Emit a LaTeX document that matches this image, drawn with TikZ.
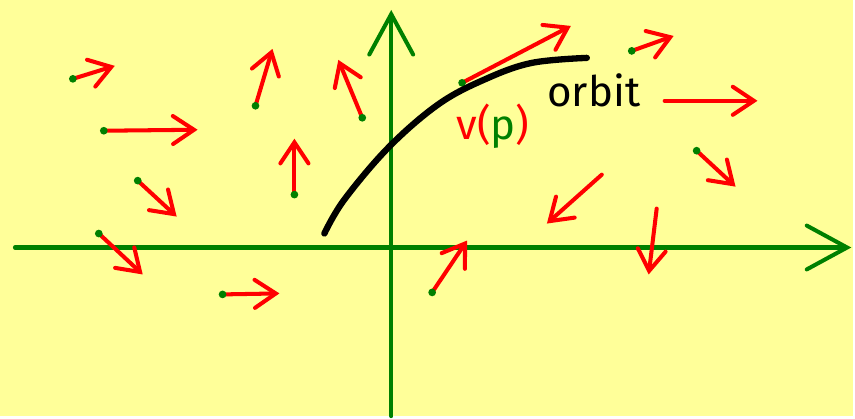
\documentclass[tikz,border=0pt]{standalone}
\usepackage{fontspec}
\setsansfont{Fira Sans}
\usepackage{xcolor}
\usetikzlibrary{arrows.meta}
\definecolor{paperyellow}{HTML}{FFFF99}
\definecolor{axisgreen}{HTML}{008000}
\definecolor{fieldred}{HTML}{FF0000}

\begin{document}
\begin{tikzpicture}[x=0.02cm,y=-0.02cm,
  axis/.style={axisgreen,line width=2.3pt,line cap=round,
    -{Straight Barb[length=23pt,width=25pt,line cap=round]}},
  vec/.style={fieldred,line width=2.3pt,line cap=round,
    -{Straight Barb[length=12pt,width=16pt,line cap=round]}},
  handtext/.style={font=\sffamily\fontsize{24}{28}\selectfont}]
  \fill[paperyellow] (0,0) rectangle (855,417);
  % axes
  \draw[axis] (15,248) -- (853,248);
  \draw[axis] (392,417) -- (392,10);
  % field vectors at marked points
  \foreach \x/\y/\u/\v in {73/79/115/66, 104/131/198/130, 138/181/177/217,
      99/234/143/275, 256/106/273/49, 363/118/339/60, 295/195/295/139,
      223/295/280/294, 433/293/468/241, 463/83/572/26, 633/51/675/36,
      698/151/737/187} {
    \draw[vec] (\x,\y) -- (\u,\v);
    \fill[axisgreen] (\x,\y) circle (2.2pt);
  }
  % vectors without base point
  \foreach \x/\y/\u/\v in {666/101/759/101, 603/175/548/224, 658/209/650/275}
    \draw[vec] (\x,\y) -- (\u,\v);
  % orbit
  \draw[black,line width=3.6pt,line cap=round] plot[smooth,tension=0.6]
    coordinates {(325,234) (345,200) (390,147) (440,104) (487,79) (533,63) (588,58)};
  \node[handtext,fieldred] (vp) at (494,126) {v(\textcolor{axisgreen}{p})};
  \node[handtext,black] (orbitlabel) at (595,91) {orbit};
\end{tikzpicture}
\end{document}
